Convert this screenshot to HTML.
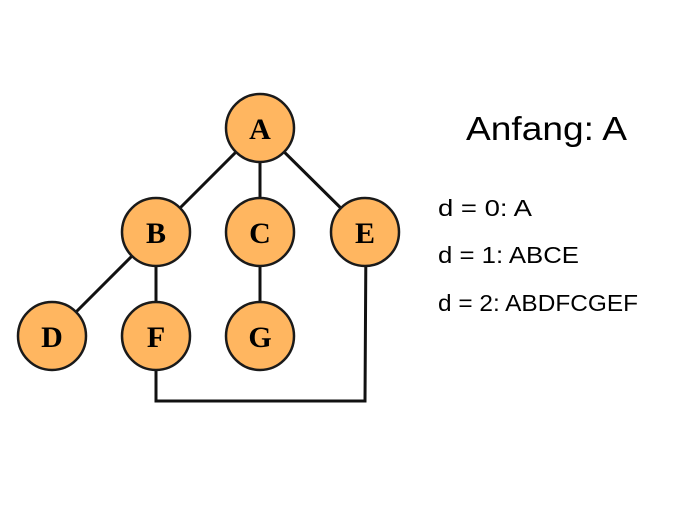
<!DOCTYPE html>
<html><head><style>body{margin:0;background:#fff}</style></head><body>
<svg width="700" height="500" xmlns="http://www.w3.org/2000/svg">
<g stroke="#111" stroke-width="3" fill="none">
<line x1="260" y1="128" x2="156" y2="232"/>
<line x1="260" y1="128" x2="260" y2="232"/>
<line x1="260" y1="128" x2="365" y2="232"/>
<line x1="156" y1="232" x2="52" y2="336"/>
<line x1="156" y1="232" x2="156" y2="336"/>
<line x1="260" y1="232" x2="260" y2="336"/>
<polyline points="156,336 156,401 365,401 366,232"/>
</g>
<g fill="#FFB660" stroke="#1a1a1a" stroke-width="2.5">
<circle cx="260" cy="128" r="34"/>
<circle cx="156" cy="232" r="34"/>
<circle cx="260" cy="232" r="34"/>
<circle cx="365" cy="232" r="34"/>
<circle cx="52" cy="336" r="34"/>
<circle cx="156" cy="336" r="34"/>
<circle cx="260" cy="336" r="34"/>
</g>
<g font-family="Liberation Serif, serif" font-weight="bold" font-size="30" text-anchor="middle" fill="#000">
<text x="260" y="139">A</text>
<text x="156" y="243">B</text>
<text x="260" y="243">C</text>
<text x="365" y="243">E</text>
<text x="52" y="347">D</text>
<text x="156" y="347">F</text>
<text x="260" y="347">G</text>
</g>
<g font-family="Liberation Sans, sans-serif" fill="#000">
<text x="466" y="140" font-size="33" textLength="161" lengthAdjust="spacingAndGlyphs">Anfang: A</text>
<text x="438" y="216" font-size="23" textLength="94" lengthAdjust="spacingAndGlyphs">d = 0: A</text>
<text x="438" y="263" font-size="23" textLength="141" lengthAdjust="spacingAndGlyphs">d = 1: ABCE</text>
<text x="438" y="311" font-size="23" textLength="200" lengthAdjust="spacingAndGlyphs">d = 2: ABDFCGEF</text>
</g>
</svg>
</body></html>
